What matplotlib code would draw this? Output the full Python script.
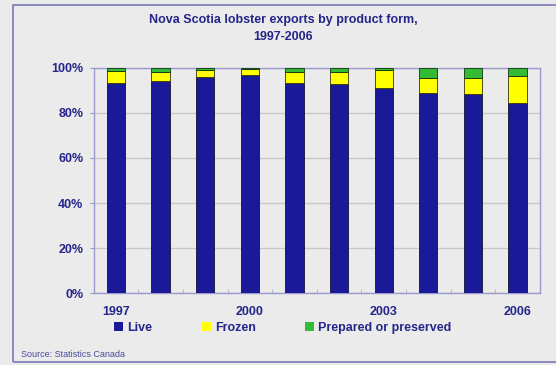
import matplotlib.pyplot as plt
from matplotlib.patches import Rectangle, Patch
from matplotlib.ticker import PercentFormatter
import numpy as np

plt.rcParams['font.family'] = ['Liberation Sans', 'DejaVu Sans']

years = [1997, 1998, 1999, 2000, 2001, 2002, 2003, 2004, 2005, 2006]
live = [93.2, 94.0, 95.9, 97.0, 93.2, 92.8, 91.2, 88.7, 88.4, 84.6]
frozen = [5.2, 4.2, 3.3, 2.7, 5.0, 5.2, 8.0, 7.0, 7.3, 11.6]
prepared = [100 - a - b for a, b in zip(live, frozen)]

navy = '#1a1a99'
yellow = '#ffff00'
green = '#33bb33'
text_col = '#25258a'
bg = '#ebebeb'

fig = plt.figure(figsize=(5.56, 3.65), dpi=100, facecolor=bg)
ax = fig.add_axes([0.1685, 0.197, 0.8025, 0.617])
ax.set_facecolor(bg)

x = np.arange(len(years))
w = 0.41
ax.bar(x, live, w, color=navy, edgecolor='#111133', linewidth=0.6, zorder=3)
ax.bar(x, frozen, w, bottom=live, color=yellow, edgecolor='#333311', linewidth=0.6, zorder=3)
bottom2 = [a + b for a, b in zip(live, frozen)]
ax.bar(x, prepared, w, bottom=bottom2, color=green, edgecolor='#113311', linewidth=0.6, zorder=3)

ax.set_xlim(-0.5, len(years) - 0.5)
ax.set_ylim(0, 100)
ax.set_yticks(range(0, 101, 20))
ax.yaxis.set_major_formatter(PercentFormatter(decimals=0))
ax.grid(axis='y', color='#c8c8c8', linewidth=1, zorder=0)

shown = [0, 3, 6, 9]
ax.set_xticks(shown)
ax.set_xticklabels([str(years[i]) for i in shown])
ax.set_xticks(x[:-1] + 0.5, minor=True)
ax.tick_params(axis='x', which='major', length=0, pad=9)
ax.tick_params(axis='x', which='minor', length=3, direction='in', color='#b0b0d0')
ax.tick_params(axis='y', length=3, color='#9a9ad0', pad=4.5)
for lab in ax.get_xticklabels() + ax.get_yticklabels():
    lab.set_fontweight('bold')
    lab.set_fontsize(9)
    lab.set_color(text_col)

for s in ax.spines.values():
    s.set_color('#9a9ad0')
    s.set_linewidth(1)

fig.text(0.51, 0.962, 'Nova Scotia lobster exports by product form,\n1997-2006',
         ha='center', va='top', fontsize=9, fontweight='bold', color=text_col,
         linespacing=1.6)

handles = [Patch(facecolor=navy, edgecolor='none', label='Live'),
           Patch(facecolor=yellow, edgecolor='none', label='Frozen'),
           Patch(facecolor=green, edgecolor='none', label='Prepared or preserved')]
leg = fig.legend(handles=handles, ncol=3, frameon=False, loc='center left',
                 bbox_to_anchor=(0.194, 0.101), handlelength=0.75, handleheight=0.75,
                 handletextpad=0.3, columnspacing=3.95, borderpad=0,
                 prop={'weight': 'bold', 'size': 9})
for t in leg.get_texts():
    t.set_color(text_col)

fig.text(0.038, 0.028, 'Source: Statistics Canada', fontsize=6.5, color='#4a4a9a',
         ha='left', va='center')

fig.patches.append(Rectangle((0.023, 0.008), 1.2, 0.978, transform=fig.transFigure,
                             fill=False, edgecolor='#7a7ab8', linewidth=1.2))

fig.savefig('out.png', dpi=100, facecolor=bg)
